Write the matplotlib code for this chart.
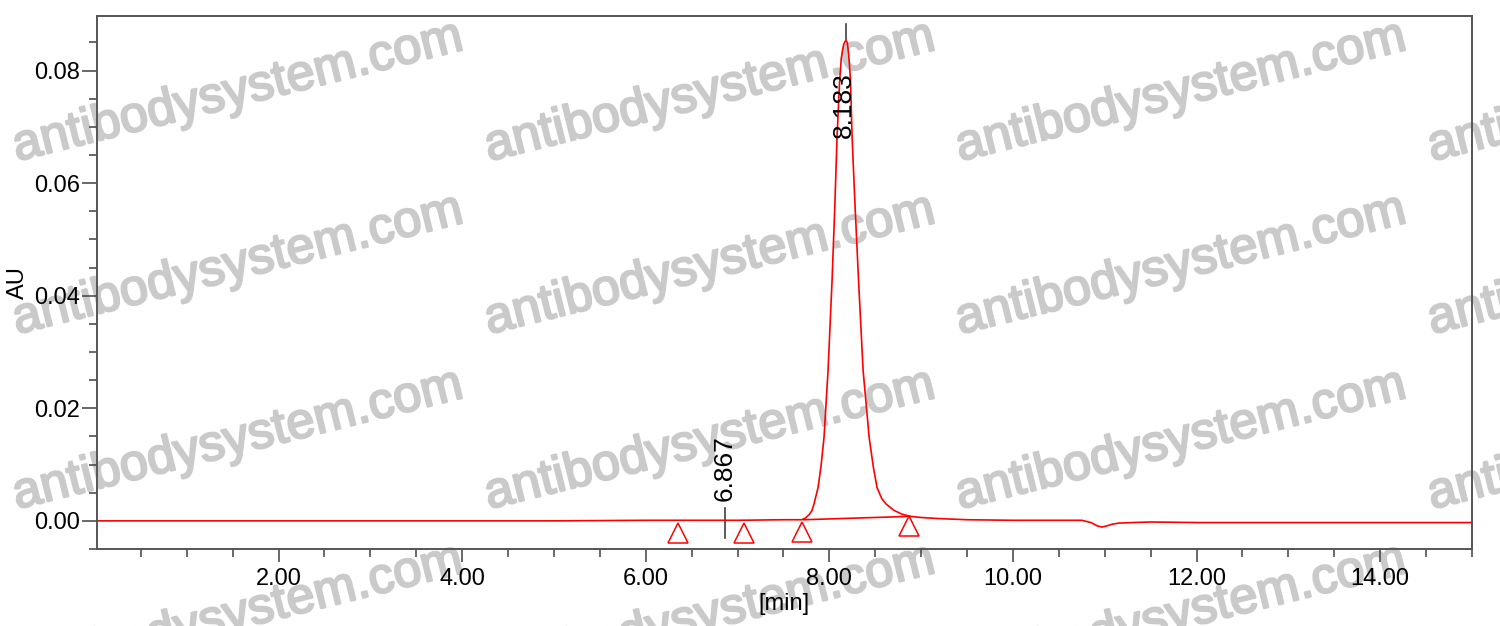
import numpy as np
import matplotlib.pyplot as plt
import matplotlib.patheffects as pe
from matplotlib.ticker import FixedLocator, MultipleLocator, FormatStrFormatter

plt.rcParams['font.family'] = ['Liberation Sans', 'DejaVu Sans']

# chromatogram trace (time in min, absorbance in AU)
time = [0.0, 1.0, 2.0, 3.0, 4.0, 5.0, 6.0, 6.5, 7.0, 7.5, 7.70, 7.74, 7.78,
        7.81, 7.833, 7.877, 7.91, 7.942, 7.986, 8.03, 8.06, 8.084, 8.11,
        8.13, 8.155, 8.172, 8.183, 8.195, 8.21, 8.23, 8.248, 8.28, 8.318,
        8.368, 8.434, 8.48, 8.52, 8.57, 8.618, 8.70, 8.79, 8.88, 9.0, 9.2,
        9.5, 10.0, 10.5, 10.75, 10.85, 10.92, 10.97, 11.02, 11.08, 11.15,
        11.3, 11.5, 12.0, 12.5, 13.0, 13.5, 14.0, 14.5, 15.0]
au = [0.0, 0.0, 0.0, 0.0, 0.0, 0.0, 0.0001, 0.0001, 0.0001, 0.0002, 0.0002,
      0.0005, 0.0011, 0.0018, 0.0030, 0.0059, 0.0098, 0.0148, 0.0267,
      0.0428, 0.0560, 0.0682, 0.0775, 0.0822, 0.0846, 0.0852, 0.0853,
      0.0850, 0.0830, 0.0785, 0.0682, 0.0560, 0.0428, 0.0267, 0.0148,
      0.0095, 0.0059, 0.0040, 0.0030, 0.0019, 0.0012, 0.0008, 0.0006,
      0.0004, 0.0002, 0.0001, 0.0001, 0.0001, -0.0003, -0.0009, -0.0011,
      -0.0009, -0.0006, -0.0004, -0.0003, -0.0002, -0.0003, -0.0003,
      -0.0003, -0.0003, -0.0003, -0.0003, -0.0003]

# integration baseline of the main peak
base_t = [7.72, 8.88]
base_au = [0.0002, 0.0008]

# peak events (triangles) and labelled peaks
event_t = [6.35, 7.07, 7.70, 8.87]
event_au = [-0.0021, -0.0021, -0.0019, -0.0009]
peak_t = [6.867, 8.183]
peak_labels = ['6.867', '8.183']

x_ticks = [2, 4, 6, 8, 10, 12, 14]
y_ticks = [0.0, 0.02, 0.04, 0.06, 0.08]

red = '#ff0000'
dark = '#404040'
wm_color = '#cacaca'

fig = plt.figure(figsize=(15, 6.26), dpi=100)
fig.patch.set_facecolor('white')
ax = fig.add_axes([0.0645, 0.123, 0.9168, 0.8514])
ax.patch.set_alpha(0)

# watermark behind the plot
wm_x = [238, 710, 1181, 1653]
wm_y = [92, 265, 440, 615]
for yy in wm_y:
    for xx in wm_x:
        fig.text(xx / 1500, 1 - yy / 626, 'antibodysystem.com', fontsize=36.5,
                 color=wm_color, rotation=14, ha='center', va='center',
                 rotation_mode='anchor', zorder=-5,
                 path_effects=[pe.withStroke(linewidth=1.6,
                                             foreground=wm_color)])

ax.plot(time, au, color=red, lw=1.2, zorder=3)
ax.plot(base_t, base_au, color=red, lw=1.2, zorder=3)
ax.plot(event_t, event_au, ls='none', marker='^', markersize=15,
        markerfacecolor='none', markeredgecolor=red, markeredgewidth=1.1,
        zorder=3)

# peak markers
ax.plot([peak_t[0], peak_t[0]], [0.0023, -0.0030], color=dark, lw=1.2)
ax.text(peak_t[0] - 0.01, 0.0036, peak_labels[0], rotation=90, fontsize=19,
        ha='center', va='bottom')
ax.plot([peak_t[1], peak_t[1]], [0.0853, 0.0882], color=dark, lw=1.2)
ax.text(peak_t[1] - 0.03, 0.0681, peak_labels[1], rotation=90, fontsize=19,
        ha='center', va='bottom')

ax.set_xlim(0.02, 15)
ax.set_ylim(-0.005, 0.0897)

ax.xaxis.set_major_locator(FixedLocator(x_ticks))
ax.xaxis.set_minor_locator(MultipleLocator(0.5))
ax.xaxis.set_major_formatter(FormatStrFormatter('%.2f'))
ax.yaxis.set_major_locator(FixedLocator(y_ticks))
ax.yaxis.set_minor_locator(MultipleLocator(0.005))
ax.yaxis.set_major_formatter(FormatStrFormatter('%.2f'))

ax.tick_params(axis='x', which='major', length=9, width=1.1, color=dark,
               labelsize=17, pad=5, direction='out')
ax.tick_params(axis='x', which='minor', length=6, width=1.1, color=dark,
               direction='out')
ax.tick_params(axis='y', which='major', length=11, width=1.1, color=dark,
               labelsize=17, pad=1, direction='out')
ax.tick_params(axis='y', which='minor', length=6, width=1.1, color=dark,
               direction='out')
for s in ax.spines.values():
    s.set_color('#555555')
    s.set_linewidth(1.4)

ax.set_xlabel('[min]', fontsize=17, labelpad=2)
ax.set_ylabel('AU', fontsize=17, labelpad=4)

fig.savefig('out.png', dpi=100)
